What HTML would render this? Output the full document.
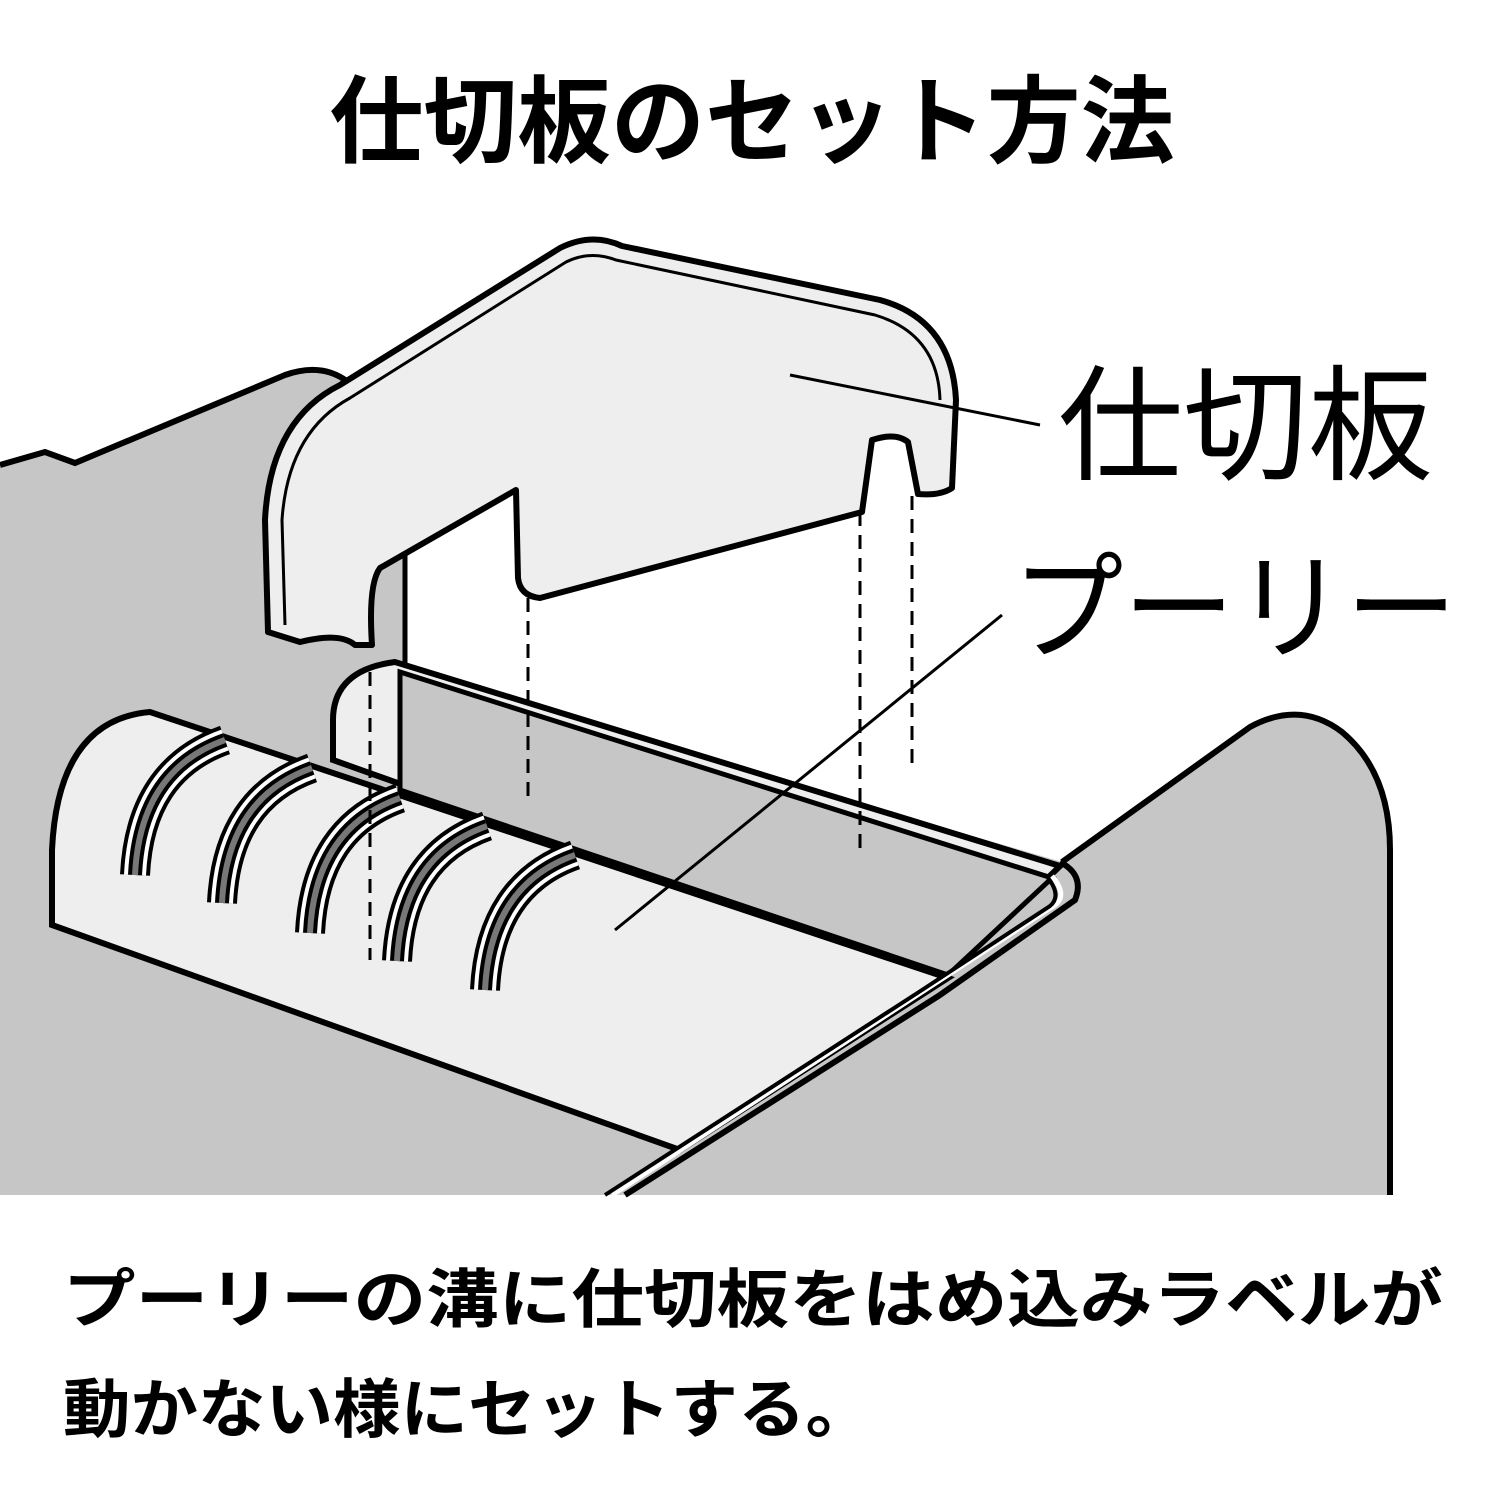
<!DOCTYPE html>
<html><head><meta charset="utf-8"><style>
html,body{margin:0;padding:0;background:#fff;}
svg{display:block;}
text{font-family:"Liberation Sans","Noto Sans CJK JP",sans-serif;}
</style></head><body>
<svg width="1500" height="1500" viewBox="0 0 1500 1500" xmlns="http://www.w3.org/2000/svg">
<text x="752" y="155" font-size="95" font-weight="bold" text-anchor="middle" textLength="845" lengthAdjust="spacingAndGlyphs">仕切板のセット方法</text>

<!-- gray body fill -->
<path d="M0,465 L45,452 L75,463 L285,375 Q322,362 348,382 L405,545 L405,670 L1062,862 L1250,727 Q1300,700 1342,732 Q1390,772 1390,850 L1390,1195 L0,1195 Z" fill="#c6c6c6"/>
<path d="M0,465 L45,452 L75,463 L285,375 Q322,362 348,382" fill="none" stroke="#000" stroke-width="6"/>
<line x1="405" y1="545" x2="405" y2="668" stroke="#000" stroke-width="5"/>
<path d="M1062,862 L1250,727 Q1300,700 1342,732 Q1390,772 1390,850 L1390,1195" fill="none" stroke="#000" stroke-width="6"/>

<!-- interior slot -->
<path d="M333,720 Q333,670 395,662 L1060,866 L945,978 L333,760 Z" fill="#eeeeee" stroke="#000" stroke-width="6"/>
<path d="M400,672 L1052,878 L948,975 L400,790 Z" fill="#c6c6c6" stroke="#000" stroke-width="5"/>

<!-- pulley front face -->
<path d="M52,925 L52,850 Q58,720 150,712 L948,978 L680,1150 Z" fill="#eeeeee" stroke="#000" stroke-width="6"/>
<!-- rim of right body -->
<path d="M1060,862 Q1085,875 1075,900 L940,995 L625,1195" fill="none" stroke="#000" stroke-width="6"/>
<path d="M1052,876 Q1068,895 1055,905 L928,988 L612,1195" fill="none" stroke="#fff" stroke-width="5"/>
<path d="M1048,878 Q1062,896 1050,906 L922,990 L605,1195" fill="none" stroke="#000" stroke-width="4"/>

<!-- pulley slots -->
<g fill="none" stroke-linecap="butt">
<g id="s">
<path d="M225,740 Q140,770 135,875" stroke="#000" stroke-width="30"/>
<path d="M225,740 Q140,770 135,875" stroke="#fff" stroke-width="22"/>
<path d="M225,740 Q140,770 135,875" stroke="#000" stroke-width="14"/>
<path d="M225,740 Q140,770 135,875" stroke="#777" stroke-width="6"/>
</g>
<use href="#s" transform="translate(87,28)"/>
<use href="#s" transform="translate(175,58)"/>
<use href="#s" transform="translate(262,86)"/>
<use href="#s" transform="translate(350,115)"/>
</g>

<!-- partition plate -->
<path d="M268,632 L265,520 Q270,420 340,385 L560,248 Q592,232 622,246 L880,300 Q952,320 956,400 L952,488 Q940,496 918,494 L908,442 Q896,432 872,440 L862,512 L540,598 Q520,596 518,578 L516,490 L380,568 Q368,584 372,645 L355,645 Q340,632 300,642 Z" fill="#eeeeee" stroke="#000" stroke-width="6" stroke-linejoin="round"/>
<path d="M285,625 L282,520 Q288,432 350,398 L566,262 Q590,250 616,260 L875,315 Q938,334 940,400" fill="none" stroke="#000" stroke-width="3"/>

<!-- dashed lines -->
<g stroke="#000" stroke-width="3" stroke-dasharray="14,9" fill="none">
<line x1="370" y1="672" x2="370" y2="960"/>
<line x1="528" y1="598" x2="528" y2="805"/>
<line x1="860" y1="512" x2="860" y2="852"/>
<line x1="912" y1="496" x2="912" y2="772"/>
</g>

<!-- leaders -->
<line x1="790" y1="375" x2="1040" y2="425" stroke="#000" stroke-width="3"/>
<line x1="1002" y1="615" x2="615" y2="930" stroke="#000" stroke-width="3"/>

<text x="1058" y="470" font-size="125">仕切板</text>
<text x="1012" y="650" font-size="118" textLength="445" lengthAdjust="spacingAndGlyphs">プーリー</text>

<text x="63" y="1322" font-size="64" font-weight="bold" textLength="1380" lengthAdjust="spacingAndGlyphs">プーリーの溝に仕切板をはめ込みラベルが</text>
<text x="63" y="1432" font-size="64" font-weight="bold" textLength="810" lengthAdjust="spacingAndGlyphs">動かない様にセットする。</text>
</svg>
</body></html>
